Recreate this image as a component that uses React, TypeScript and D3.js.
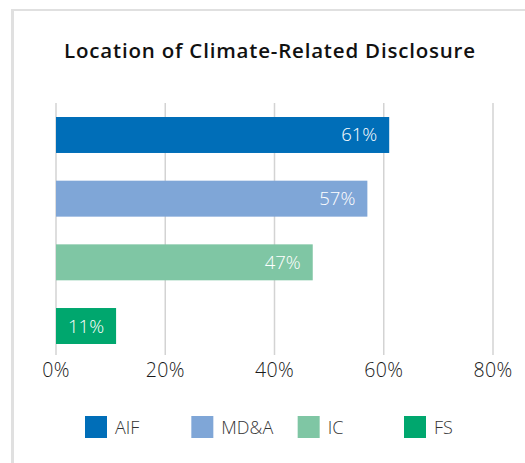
import React from "react";
import * as d3 from "d3";

const categories = ["AIF", "MD&A", "IC", "FS"];
const values = [0.61, 0.57, 0.47, 0.11];
const colors = ["#006eb8", "#7fa6d7", "#7fc6a4", "#00a76e"];
const ticks = [0, 0.2, 0.4, 0.6, 0.8];
const title = "Location of Climate-Related Disclosure";

const FONT = "'Open Sans', sans-serif";

export default function App() {
  const W = 525;
  const H = 463;
  const x = d3.scaleLinear().domain([0, 0.8]).range([56, 493]);
  const y = d3
    .scaleBand<string>()
    .domain(categories)
    .range([103, 358])
    .paddingInner(0.435)
    .paddingOuter(0.22);
  const fmt = d3.format(".0%");
  const legendX = d3.scaleLinear().domain([0, 3]).range([85, 404]);

  return (
    <svg
      width={W}
      height={H}
      style={{ position: "absolute", left: 0, top: 0, background: "#fff" }}
      fontFamily={FONT}
    >
      <rect x={0} y={0} width={W} height={H} fill="#fff" />
      {/* frame */}
      <line x1={11} x2={W} y1={10} y2={10} stroke="#e0e0e0" strokeWidth={2} />
      <line x1={12.5} x2={12.5} y1={9} y2={H} stroke="#e0e0e0" strokeWidth={3} />
      <text
        x={270}
        y={58}
        textAnchor="middle"
        fontSize={20.5}
        fontWeight={600}
        letterSpacing={0.8}
        fill="#111"
      >
        {title}
      </text>
      {/* grid */}
      {ticks.map((t) => (
        <line
          key={t}
          x1={x(t)}
          x2={x(t)}
          y1={103}
          y2={355}
          stroke="#d3d3d3"
          strokeWidth={1.5}
        />
      ))}
      {/* bars */}
      {categories.map((c, i) => (
        <g key={c}>
          <rect
            x={x(0)}
            y={y(c)}
            width={x(values[i]) - x(0)}
            height={y.bandwidth()}
            fill={colors[i]}
          />
          <text
            x={x(values[i]) - 12}
            y={(y(c) as number) + y.bandwidth() / 2 + 6.5}
            textAnchor="end"
            fontSize={18.5}
            fontWeight={300}
            fill="#fff"
          >
            {fmt(values[i])}
          </text>
        </g>
      ))}
      {/* axis labels */}
      {ticks.map((t) => (
        <text
          key={t}
          x={x(t)}
          y={377}
          textAnchor="middle"
          fontSize={19.5}
          fontWeight={300}
          letterSpacing={0.3}
          fill="#1a1a1a"
        >
          {fmt(t)}
        </text>
      ))}
      {/* legend */}
      {categories.map((c, i) => (
        <g key={c} transform={`translate(${legendX(i)},416)`}>
          <rect x={0} y={0} width={22} height={22} fill={colors[i]} />
          <text x={30} y={18} fontSize={18} fontWeight={300} fill="#333">
            {c}
          </text>
        </g>
      ))}
    </svg>
  );
}
